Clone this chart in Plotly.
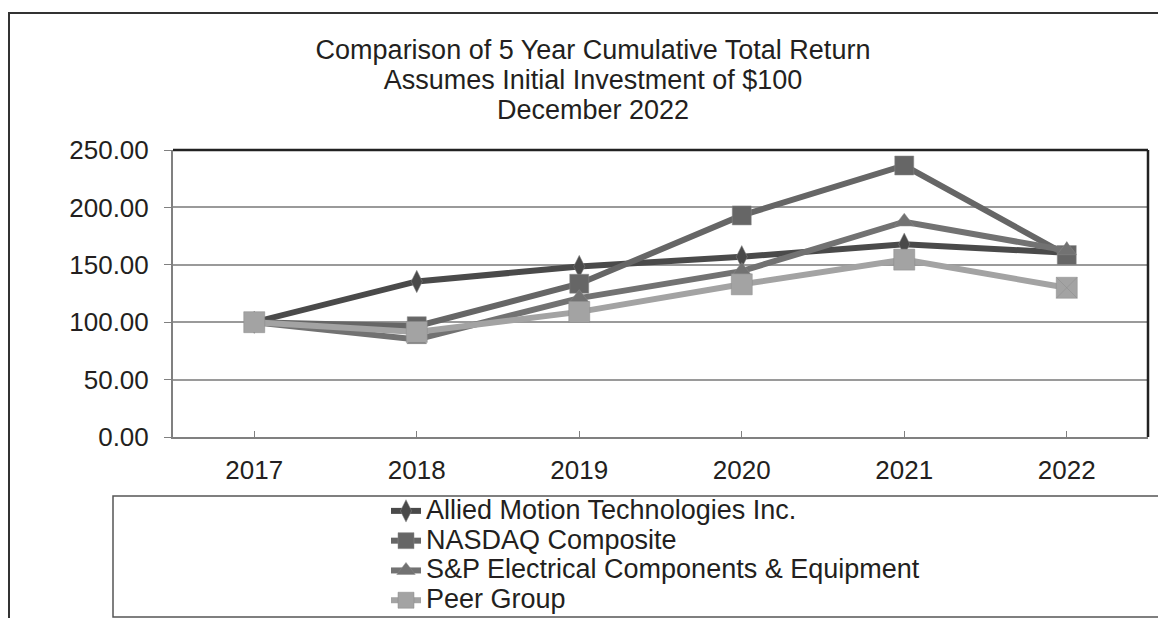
import plotly.graph_objects as go

years = ["2017", "2018", "2019", "2020", "2021", "2022"]
allied = [100.00, 135.50, 148.50, 157.00, 168.00, 160.50]
nasdaq = [100.00, 96.50, 133.50, 193.00, 236.50, 158.50]
sp_elec = [100.00, 85.00, 121.00, 144.50, 187.50, 162.50]
peer = [100.00, 91.50, 109.00, 133.00, 154.50, 130.00]
y_ticks = [0, 50, 100, 150, 200, 250]
y_tick_text = ["0.00", "50.00", "100.00", "150.00", "200.00", "250.00"]
names = ["Allied Motion Technologies Inc.", "NASDAQ Composite",
         "S&P Electrical Components & Equipment", "Peer Group"]

W, H = 1166, 618
OFF = 8  # page body margin
# plot area in screen pixels
SL, SR, ST, SB = 173, 1148, 150, 437
L, R, T, B = SL - OFF, SR - OFF, ST - OFF, SB - OFF

def sx(x):
    return (x - SL) / (SR - SL)

def sy(y):
    return (SB - y) / (SB - ST)

TXT = "#231f20"
FONT = "Liberation Sans, Arial, sans-serif"

fig = go.Figure()
series = [
    (names[0], allied, "#4a4a4a", ["diamond-tall"] * 6, 16),
    (names[1], nasdaq, "#666666", ["square"] * 6, 19),
    (names[2], sp_elec, "#727272", ["triangle-up"] * 6, 17),
    (names[3], peer, "#a3a3a3", ["square"] * 5 + ["square-x"], 21),
]
for name, vals, col, sym, size in series:
    fig.add_trace(go.Scatter(
        x=years, y=vals, name=f"<span style='font-size:27px'>{name}</span>",
        mode="lines+markers",
        line=dict(color=col, width=6),
        marker=dict(symbol=sym, size=size, color=col,
                    line=dict(color="#8a8a8a", width=0.5)),
    ))

shapes = [
    # outer frame
    dict(type="line", xref="paper", yref="paper", x0=sx(8), x1=sx(1170), y0=sy(13), y1=sy(13),
         line=dict(color="#333333", width=2)),
    dict(type="line", xref="paper", yref="paper", x0=sx(9), x1=sx(9), y0=sy(13), y1=sy(622),
         line=dict(color="#333333", width=2)),
    # plot top/right border
    dict(type="line", xref="paper", yref="paper", x0=0, x1=1, y0=1, y1=1,
         line=dict(color="#222222", width=2.5)),
    dict(type="line", xref="paper", yref="paper", x0=1, x1=1, y0=0, y1=1,
         line=dict(color="#222222", width=2.5)),
    # legend box
    dict(type="rect", xref="paper", yref="paper", x0=sx(113), x1=sx(1163), y0=sy(496), y1=sy(617),
         line=dict(color="#555555", width=1.5), fillcolor="rgba(0,0,0,0)"),
]

title_text = "<br>".join(
    f"<span style='font-size:27px'>{t}</span>"
    for t in ["Comparison of 5 Year Cumulative Total Return",
              "Assumes Initial Investment of $100",
              "December 2022"])

fig.update_layout(
    width=W, height=H,
    margin=dict(l=L, r=W - R, t=T, b=H - B, autoexpand=False),
    paper_bgcolor="white", plot_bgcolor="white",
    font=dict(family=FONT, color=TXT, size=26),
    title=dict(
        text=title_text,
        x=(593 - OFF) / W, xanchor="center", xref="container",
        y=1 - (59 - OFF) / H, yanchor="top", yref="container",
        font=dict(family=FONT, size=23, color=TXT),
    ),
    xaxis=dict(
        type="category", range=[-0.5, 5.5],
        showline=True, linecolor="#808080", linewidth=2,
        ticks="inside", ticklen=6, tickcolor="#808080", tickwidth=1,
        showgrid=False, tickfont=dict(size=26, color=TXT),
        ticklabelstandoff=9, automargin=False,
    ),
    yaxis=dict(
        range=[0, 250], tickvals=y_ticks, ticktext=y_tick_text,
        showline=True, linecolor="#808080", linewidth=2,
        ticks="outside", ticklen=7, tickcolor="#808080", tickwidth=1,
        showgrid=True, gridcolor="#9a9a9a", gridwidth=1.5,
        zeroline=False, tickfont=dict(size=26, color=TXT),
        ticklabelstandoff=10, automargin=False,
    ),
    legend=dict(
        x=sx(386), y=sy(491), xanchor="left", yanchor="top",
        bgcolor="rgba(0,0,0,0)", borderwidth=0,
        font=dict(size=20.6, color=TXT), tracegroupgap=0,
        itemwidth=30,
    ),
    shapes=shapes,
)

fig.write_html("out.html")
